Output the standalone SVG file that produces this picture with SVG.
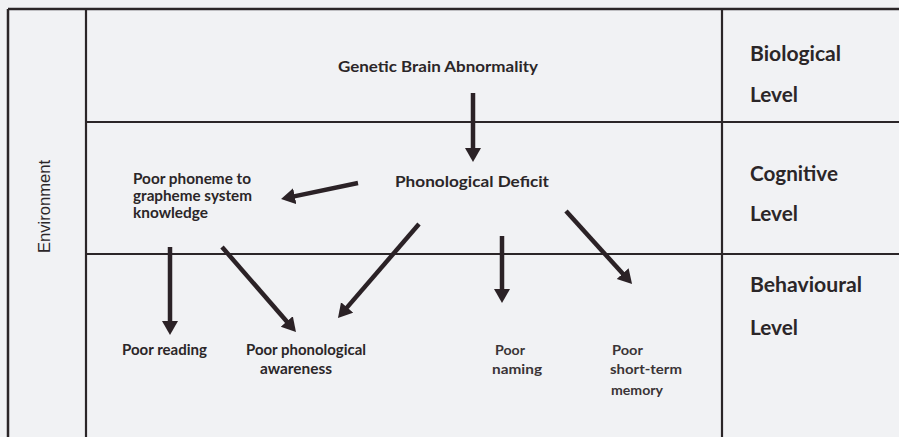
<svg xmlns="http://www.w3.org/2000/svg" width="899" height="437" viewBox="0 0 899 437">
<style>
.grid{stroke:#2b2628;fill:none}
.lbl{font-family:"Lato","Liberation Sans",sans-serif;font-weight:bold;fill:#2b2628}
.lvl{font-family:"Lato","Liberation Sans",sans-serif;font-weight:bold;fill:#2b2628;font-size:20.5px}
.thin{font-family:"Lato","Liberation Sans",sans-serif;font-weight:bold;fill:#3a3436;font-size:14px}
.env{font-family:"Liberation Sans","Arial",sans-serif;fill:#2b2628;font-size:16.5px}
.arr{stroke:#2b2226;stroke-width:4.5;fill:none;marker-end:url(#ah)}
</style>
<defs>
<marker id="ah" markerUnits="userSpaceOnUse" markerWidth="16" markerHeight="18" refX="2" refY="8" orient="auto">
<path d="M0,0 L14,8 L0,16 z" fill="#2b2226"/>
</marker>
</defs>
<rect width="899" height="437" fill="#f1f2f4"/>
<g id="grid" class="grid">
<path d="M8,9 H899 M8,9 V437" stroke-width="2.5"/>
<path d="M86,9 V437 M722,9 V437" stroke-width="2.2"/>
<path d="M86,122 H899 M86,254 H899" stroke-width="1.8"/>
</g>
<g id="env"><text class="env" transform="translate(50,206.5) rotate(-90)" text-anchor="middle" textLength="93" lengthAdjust="spacingAndGlyphs">Environment</text></g>
<g id="levels">
<text class="lvl" x="750" y="61" textLength="91" lengthAdjust="spacingAndGlyphs">Biological</text>
<text class="lvl" x="750" y="102" textLength="48" lengthAdjust="spacingAndGlyphs">Level</text>
<text class="lvl" x="750" y="181" textLength="88" lengthAdjust="spacingAndGlyphs">Cognitive</text>
<text class="lvl" x="750" y="221" textLength="48" lengthAdjust="spacingAndGlyphs">Level</text>
<text class="lvl" x="750" y="292" textLength="112" lengthAdjust="spacingAndGlyphs">Behavioural</text>
<text class="lvl" x="750" y="335" textLength="48" lengthAdjust="spacingAndGlyphs">Level</text>
</g>
<g id="genetic"><text class="lbl" x="338" y="72" font-size="16" textLength="200" lengthAdjust="spacingAndGlyphs">Genetic Brain Abnormality</text></g>
<g id="phonological"><text class="lbl" x="395" y="187" font-size="16" textLength="154" lengthAdjust="spacingAndGlyphs">Phonological  Deficit</text></g>
<g id="phoneme">
<text class="lbl" x="133" y="184" font-size="15" textLength="118" lengthAdjust="spacingAndGlyphs">Poor phoneme to</text>
<text class="lbl" x="133" y="201" font-size="15" textLength="119" lengthAdjust="spacingAndGlyphs">grapheme system</text>
<text class="lbl" x="133" y="218" font-size="15" textLength="75" lengthAdjust="spacingAndGlyphs">knowledge</text>
</g>
<g id="reading"><text class="lbl" x="122" y="355" font-size="15" textLength="85" lengthAdjust="spacingAndGlyphs">Poor reading</text></g>
<g id="awareness">
<text class="lbl" x="246" y="355" font-size="15" textLength="120" lengthAdjust="spacingAndGlyphs">Poor phonological</text>
<text class="lbl" x="260" y="374" font-size="15" textLength="72" lengthAdjust="spacingAndGlyphs">awareness</text>
</g>
<g id="naming">
<text class="thin" x="495" y="355" textLength="30" lengthAdjust="spacingAndGlyphs">Poor</text>
<text class="thin" x="492" y="374" textLength="50" lengthAdjust="spacingAndGlyphs">naming</text>
</g>
<g id="memory">
<text class="thin" x="612" y="355" textLength="31" lengthAdjust="spacingAndGlyphs">Poor</text>
<text class="thin" x="610" y="374" textLength="72" lengthAdjust="spacingAndGlyphs">short-term</text>
<text class="thin" x="611" y="395" textLength="52" lengthAdjust="spacingAndGlyphs">memory</text>
</g>
<g id="connectors">
<line class="arr" x1="473" y1="93" x2="473" y2="150"/>
<line class="arr" x1="358" y1="183" x2="292.8" y2="196.6"/>
<line class="arr" x1="170" y1="247" x2="170" y2="323"/>
<line class="arr" x1="222" y1="247" x2="288.1" y2="323"/>
<line class="arr" x1="419" y1="224" x2="345.8" y2="308.9"/>
<line class="arr" x1="502" y1="236" x2="502" y2="291"/>
<line class="arr" x1="566" y1="211" x2="624" y2="275.1"/>
</g>
</svg>
